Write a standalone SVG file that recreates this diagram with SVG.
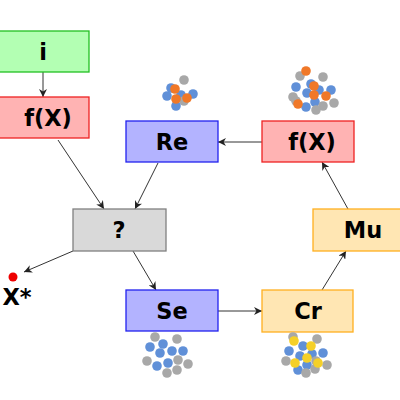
<svg xmlns="http://www.w3.org/2000/svg" width="400" height="400" viewBox="0 0 400 400">
<defs>
<marker id="ah" viewBox="0 0 10 10" refX="10" refY="5" markerWidth="8" markerHeight="8" markerUnits="userSpaceOnUse" orient="auto">
<path d="M0,0 L10,5 L0,10 L3,5 Z" fill="#222"/>
</marker>
<style>
.lbl{font-family:"DejaVu Sans",sans-serif;font-weight:bold;font-size:22.5px;text-anchor:middle;dominant-baseline:central;fill:#000}
.e{stroke:#333;stroke-width:1;fill:none;marker-end:url(#ah)}
.g{fill:#b3ffb3;stroke:#22c022;stroke-width:1.3}
.r{fill:#ffb3b3;stroke:#ee2222;stroke-width:1.3}
.b{fill:#b3b3ff;stroke:#2222ee;stroke-width:1.3}
.q{fill:#d9d9d9;stroke:#808080;stroke-width:1.3}
.y{fill:#ffe6b3;stroke:#ffb020;stroke-width:1.3}
circle.db,circle.do,circle.dg,circle.dy{r:4.8px}
.db{fill:#6090d8}
.do{fill:#f07828}
.dg{fill:#a8a8a8}
.dy{fill:#f5d028}
</style>
</defs>
<g id="edges">
<line class="e" x1="43" y1="72" x2="43" y2="97"/>
<line class="e" x1="58" y1="140" x2="104" y2="209"/>
<line class="e" x1="158" y1="163" x2="135" y2="209"/>
<line class="e" x1="73" y1="251" x2="24" y2="272"/>
<line class="e" x1="133" y1="251" x2="156" y2="290"/>
<line class="e" x1="218" y1="311" x2="262" y2="311"/>
<line class="e" x1="322" y1="290" x2="346" y2="251"/>
<line class="e" x1="348" y1="209" x2="322" y2="162"/>
<line class="e" x1="262" y1="142" x2="218" y2="142"/>
</g>
<g id="n_i"><rect class="g" x="-3" y="31" width="92" height="41"/><text class="lbl" x="43" y="52">i</text></g>
<g id="n_fx1"><rect class="r" x="-3" y="97" width="92" height="41"/><text class="lbl" x="48" y="118">f(X)</text></g>
<g id="n_re"><rect class="b" x="126" y="121" width="92" height="41"/><text class="lbl" x="172" y="142">Re</text></g>
<g id="n_fx2"><rect class="r" x="262" y="121" width="92" height="41"/><text class="lbl" x="312" y="142">f(X)</text></g>
<g id="n_q"><rect class="q" x="73" y="209" width="93" height="42"/><text class="lbl" x="119" y="230">?</text></g>
<g id="n_mu"><rect class="y" x="313" y="209" width="92" height="42"/><text class="lbl" x="363" y="230">Mu</text></g>
<g id="n_se"><rect class="b" x="126" y="290" width="92" height="41"/><text class="lbl" x="172" y="311">Se</text></g>
<g id="n_cr"><rect class="y" x="262" y="290" width="91" height="42"/><text class="lbl" x="308" y="311">Cr</text></g>
<g id="n_xstar"><circle cx="13" cy="277" r="4.5" fill="#ee0000"/><text class="lbl" x="17" y="297">X*</text></g>
<g id="dots_re">
<circle class="dg" cx="184" cy="80" r="4.8"/>
<circle class="db" cx="171" cy="88" r="4.8"/>
<circle class="db" cx="167" cy="96" r="4.8"/>
<circle class="db" cx="181" cy="95" r="4.8"/>
<circle class="db" cx="193" cy="94" r="4.8"/>
<circle class="dg" cx="184" cy="101" r="4.8"/>
<circle class="db" cx="176" cy="106" r="4.8"/>
<circle class="do" cx="175" cy="89" r="4.8"/>
<circle class="do" cx="176" cy="99" r="4.8"/>
<circle class="do" cx="187" cy="98" r="4.8"/>
</g>
<g id="dots_fx">
<circle class="dg" cx="300" cy="76" r="4.8"/>
<circle class="do" cx="306" cy="71" r="4.8"/>
<circle class="dg" cx="323" cy="77" r="4.8"/>
<circle class="db" cx="296" cy="87" r="4.8"/>
<circle class="db" cx="311" cy="84" r="4.8"/>
<circle class="db" cx="319" cy="90" r="4.8"/>
<circle class="db" cx="331" cy="90" r="4.8"/>
<circle class="db" cx="307" cy="93" r="4.8"/>
<circle class="dg" cx="293" cy="97" r="4.8"/>
<circle class="dg" cx="296" cy="101" r="4.8"/>
<circle class="db" cx="315" cy="102" r="4.8"/>
<circle class="dg" cx="323" cy="106" r="4.8"/>
<circle class="dg" cx="334" cy="103" r="4.8"/>
<circle class="db" cx="306" cy="107" r="4.8"/>
<circle class="dg" cx="316" cy="110" r="4.8"/>
<circle class="do" cx="314" cy="86" r="4.8"/>
<circle class="do" cx="314" cy="95" r="4.8"/>
<circle class="do" cx="326" cy="96" r="4.8"/>
<circle class="do" cx="298" cy="104" r="4.8"/>
</g>
<g id="dots_se">
<circle class="dg" cx="155" cy="337" r="4.8"/>
<circle class="dg" cx="177" cy="339" r="4.8"/>
<circle class="db" cx="150" cy="347" r="4.8"/>
<circle class="db" cx="163" cy="344" r="4.8"/>
<circle class="db" cx="160" cy="353" r="4.8"/>
<circle class="db" cx="172" cy="351" r="4.8"/>
<circle class="db" cx="183" cy="351" r="4.8"/>
<circle class="dg" cx="147" cy="361" r="4.8"/>
<circle class="dg" cx="178" cy="360" r="4.8"/>
<circle class="db" cx="168" cy="363" r="4.8"/>
<circle class="db" cx="157" cy="366" r="4.8"/>
<circle class="dg" cx="188" cy="364" r="4.8"/>
<circle class="dg" cx="177" cy="370" r="4.8"/>
<circle class="dg" cx="167" cy="373" r="4.8"/>
</g>
<g id="dots_cr">
<circle class="dg" cx="293" cy="337" r="4.8"/>
<circle class="dg" cx="317" cy="339" r="4.8"/>
<circle class="db" cx="303" cy="346" r="4.8"/>
<circle class="db" cx="289" cy="351" r="4.8"/>
<circle class="db" cx="312" cy="354" r="4.8"/>
<circle class="db" cx="300" cy="356" r="4.8"/>
<circle class="db" cx="323" cy="353" r="4.8"/>
<circle class="dg" cx="286" cy="361" r="4.8"/>
<circle class="db" cx="307" cy="365" r="4.8"/>
<circle class="dg" cx="316" cy="361" r="4.8"/>
<circle class="dg" cx="327" cy="365" r="4.8"/>
<circle class="db" cx="298" cy="370" r="4.8"/>
<circle class="dg" cx="315" cy="369" r="4.8"/>
<circle class="dg" cx="306" cy="373" r="4.8"/>
<circle class="dy" cx="294" cy="341" r="4.8"/>
<circle class="dy" cx="311" cy="346" r="4.8"/>
<circle class="dy" cx="295" cy="363" r="4.8"/>
<circle class="dy" cx="307" cy="358" r="4.8"/>
<circle class="dy" cx="318" cy="363" r="4.8"/>
</g>
</svg>
